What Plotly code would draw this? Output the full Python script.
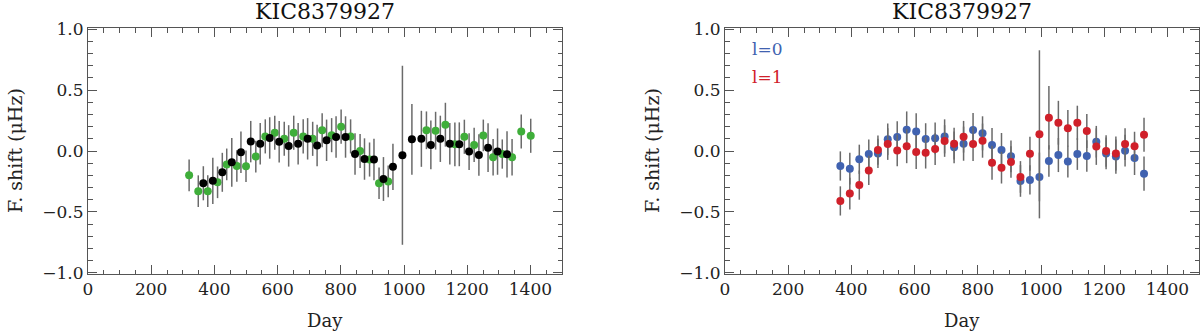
import plotly.graph_objects as go

# ---------------------------------------------
# Data
# ---------------------------------------------
day_mean = [365, 395, 425, 455, 484, 515, 545, 575, 605, 635, 665, 695, 725, 755,
            785, 815, 845, 875, 905, 935, 965, 995, 1025, 1055, 1085, 1115, 1145,
            1175, 1206, 1237, 1266, 1296, 1326]
shift_mean = [-0.265, -0.245, -0.175, -0.093, -0.01, 0.077, 0.06, 0.107, 0.076, 0.042,
              0.06, 0.10, 0.045, 0.088, 0.115, 0.115, -0.025, -0.066, -0.07, -0.23,
              -0.13, -0.035, 0.096, 0.10, 0.05, 0.10, 0.06, 0.055, -0.005, -0.033,
              0.027, -0.005, -0.027]
err_mean = [0.14, 0.19, 0.16, 0.2, 0.17, 0.17, 0.17, 0.17, 0.17, 0.17, 0.17, 0.17,
            0.17, 0.17, 0.17, 0.17, 0.17, 0.17, 0.17, 0.18, 0.19, 0.735, 0.29, 0.23,
            0.2, 0.19, 0.17, 0.18, 0.15, 0.17, 0.2, 0.19, 0.19]

day_alt = [320, 349, 379, 410, 439, 471, 500, 531, 561, 591, 621, 651, 681, 711,
           741, 771, 801, 831, 861, 891, 921, 950, 1071, 1100, 1131, 1161, 1191,
           1222, 1251, 1282, 1311, 1342, 1371, 1401]
shift_alt = [-0.20, -0.33, -0.33, -0.257, -0.11, -0.123, -0.125, -0.046, 0.12, 0.15,
             0.10, 0.15, 0.12, 0.10, 0.17, 0.13, 0.20, 0.12, 0.0, -0.07, -0.265,
             -0.25, 0.17, 0.167, 0.216, 0.055, 0.117, 0.05, 0.128, -0.052, -0.025,
             -0.052, 0.16, 0.125]
err_alt = [0.13, 0.13, 0.13, 0.13, 0.13, 0.13, 0.13, 0.13, 0.14, 0.14, 0.14, 0.14,
           0.14, 0.14, 0.14, 0.14, 0.14, 0.14, 0.14, 0.14, 0.13, 0.13, 0.155, 0.155,
           0.18, 0.18, 0.14, 0.14, 0.13, 0.15, 0.12, 0.15, 0.14, 0.14]

day_l = day_mean
shift_l0 = [-0.123, -0.145, -0.068, -0.025, -0.02, 0.096, 0.115, 0.175, 0.16, 0.098,
            0.104, 0.12, 0.03, 0.06, 0.172, 0.145, 0.049, 0.008, -0.044, -0.246,
            -0.238, -0.213, -0.082, -0.033, -0.087, -0.025, -0.041, 0.076, -0.02,
            -0.046, 0.003, -0.057, -0.186]
err_l0 = [0.12, 0.13, 0.12, 0.12, 0.12, 0.13, 0.13, 0.15, 0.15, 0.13, 0.13, 0.14,
          0.13, 0.14, 0.14, 0.14, 0.14, 0.14, 0.13, 0.13, 0.12, 0.2, 0.13, 0.14,
          0.13, 0.13, 0.13, 0.13, 0.13, 0.14, 0.13, 0.14, 0.14]
shift_l1 = [-0.41, -0.35, -0.28, -0.16, 0.008, 0.057, 0.005, 0.04, -0.008, -0.014,
            0.016, 0.082, 0.06, 0.117, 0.057, 0.085, -0.096, -0.137, -0.09, -0.213,
            -0.022, 0.137, 0.273, 0.232, 0.186, 0.232, 0.164, 0.036, 0.0, -0.02,
            0.057, 0.038, 0.134]
err_l1 = [0.12, 0.13, 0.12, 0.12, 0.12, 0.13, 0.13, 0.14, 0.14, 0.13, 0.13, 0.13,
          0.13, 0.13, 0.14, 0.14, 0.14, 0.13, 0.13, 0.13, 0.14, 0.69, 0.26, 0.18,
          0.15, 0.14, 0.14, 0.15, 0.13, 0.14, 0.13, 0.12, 0.14]

title_text = "KIC8379927"
font_family = "DejaVu Serif"
bar_color = "#6a6a6a"

W, H = 1200, 333


def px(x):
    return x / W


def py(y):
    return 1 - y / H


fig = go.Figure()


def add_series(x, y, err, color, xa, ya):
    # points with vertical error bars, no caps
    fig.add_trace(go.Scatter(
        x=x, y=y, mode="markers", xaxis=xa, yaxis=ya,
        marker=dict(size=8, color=color, line=dict(width=0)),
        error_y=dict(type="data", array=err, visible=True,
                     color=bar_color, thickness=1.5, width=0),
        showlegend=False,
    ))


# left panel
add_series(day_alt, shift_alt, err_alt, "#3fae3a", "x", "y")
add_series(day_mean, shift_mean, err_mean, "#000000", "x", "y")

# right panel
add_series(day_l, shift_l0, err_l0, "#4062b0", "x2", "y2")
add_series(day_l, shift_l1, err_l1, "#d0202a", "x2", "y2")

# -----------------------------------------
# Axes
# -----------------------------------------
axis_common = dict(
    showgrid=False, zeroline=False, showline=True, linecolor="#555555",
    linewidth=1, mirror="allticks", ticks="inside", tickcolor="#555555",
    ticklen=9, tickwidth=1, automargin=False,
    tickfont=dict(family=font_family, size=17, color="#222222"),
)
xaxis_style = dict(axis_common, range=[0, 1500], dtick=200, tick0=0,
                   minor=dict(dtick=50, ticklen=4.5, ticks="inside",
                              tickcolor="#555555"))
yaxis_style = dict(axis_common, range=[-1.01, 1.01], dtick=0.5, tick0=0,
                   tickformat=".1f",
                   minor=dict(dtick=0.1, ticklen=4.5, ticks="inside",
                              tickcolor="#555555"))

y_dom = [py(274), py(28)]

fig.update_layout(
    width=W, height=H,
    margin=dict(l=0, r=0, t=0, b=0, pad=0, autoexpand=False),
    paper_bgcolor="white", plot_bgcolor="white",
    xaxis=dict(xaxis_style, domain=[px(88), px(562)], anchor="y"),
    yaxis=dict(yaxis_style, domain=y_dom, anchor="x"),
    xaxis2=dict(xaxis_style, domain=[px(725), px(1199)], anchor="y2"),
    yaxis2=dict(yaxis_style, domain=y_dom, anchor="x2"),
)

# -----------------------------------------
# Text: titles, axis labels, l=0 / l=1 keys
# -----------------------------------------
for cx, lx in [(325, 15), (962, 652)]:
    fig.add_annotation(x=px(cx), y=py(12), xref="paper", yref="paper",
                       xanchor="center", yanchor="middle",
                       text=title_text, showarrow=False,
                       font=dict(family=font_family, size=22, color="#111111"))
    fig.add_annotation(x=px(cx), y=py(320), xref="paper", yref="paper",
                       xanchor="center", yanchor="middle",
                       text="Day", showarrow=False,
                       font=dict(family=font_family, size=18, color="#222222"))
    fig.add_annotation(x=px(lx), y=py(151), xref="paper", yref="paper",
                       xanchor="center", yanchor="middle",
                       text="F. shift (μHz)", textangle=-90, showarrow=False,
                       font=dict(family=font_family, size=19, color="#222222"))

fig.add_annotation(x=80, y=0.84, xref="x2", yref="y2", xanchor="left",
                   yanchor="middle", text="l=0", showarrow=False,
                   font=dict(family=font_family, size=17, color="#4062b0"))
fig.add_annotation(x=80, y=0.61, xref="x2", yref="y2", xanchor="left",
                   yanchor="middle", text="l=1", showarrow=False,
                   font=dict(family=font_family, size=17, color="#d0202a"))

# the page body has a default 8 px margin; drop it so the figure fills the window
fig.write_html("out.html", config={"displayModeBar": False},
               post_script="document.body.style.margin = '0px';")
